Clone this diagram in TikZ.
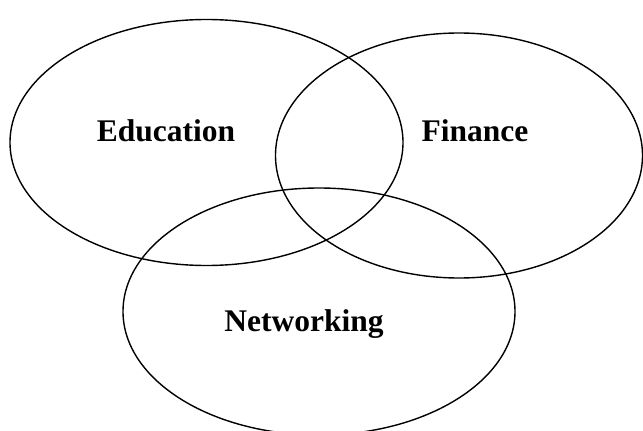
\documentclass[tikz,border=0pt]{standalone}
\usepackage{fontspec}
\setmainfont{Liberation Serif}
\begin{document}
\begin{tikzpicture}[x=1pt,y=-1pt,
  setline/.style={draw=black,line width=1.4pt},
  setlabel/.style={font=\bfseries\fontsize{31.5}{34}\selectfont,inner sep=0pt}]
\useasboundingbox (0,0) rectangle (643,431);
\clip (0,0) rectangle (643,431);
\coordinate (edu) at (206.5,142.5);
\coordinate (fin) at (459,155.5);
\coordinate (net) at (319,311.5);
\draw[setline] (edu) ellipse [x radius=196.5, y radius=123];
\draw[setline] (fin) ellipse [x radius=183.5, y radius=122.5];
\draw[setline] (net) ellipse [x radius=196, y radius=123.5];
\node[setlabel] (tedu) at (166,131) {Education};
\node[setlabel] (tfin) at (475,131) {Finance};
\node[setlabel] (tnet) at (304,324) {Networking};
\end{tikzpicture}
\end{document}
